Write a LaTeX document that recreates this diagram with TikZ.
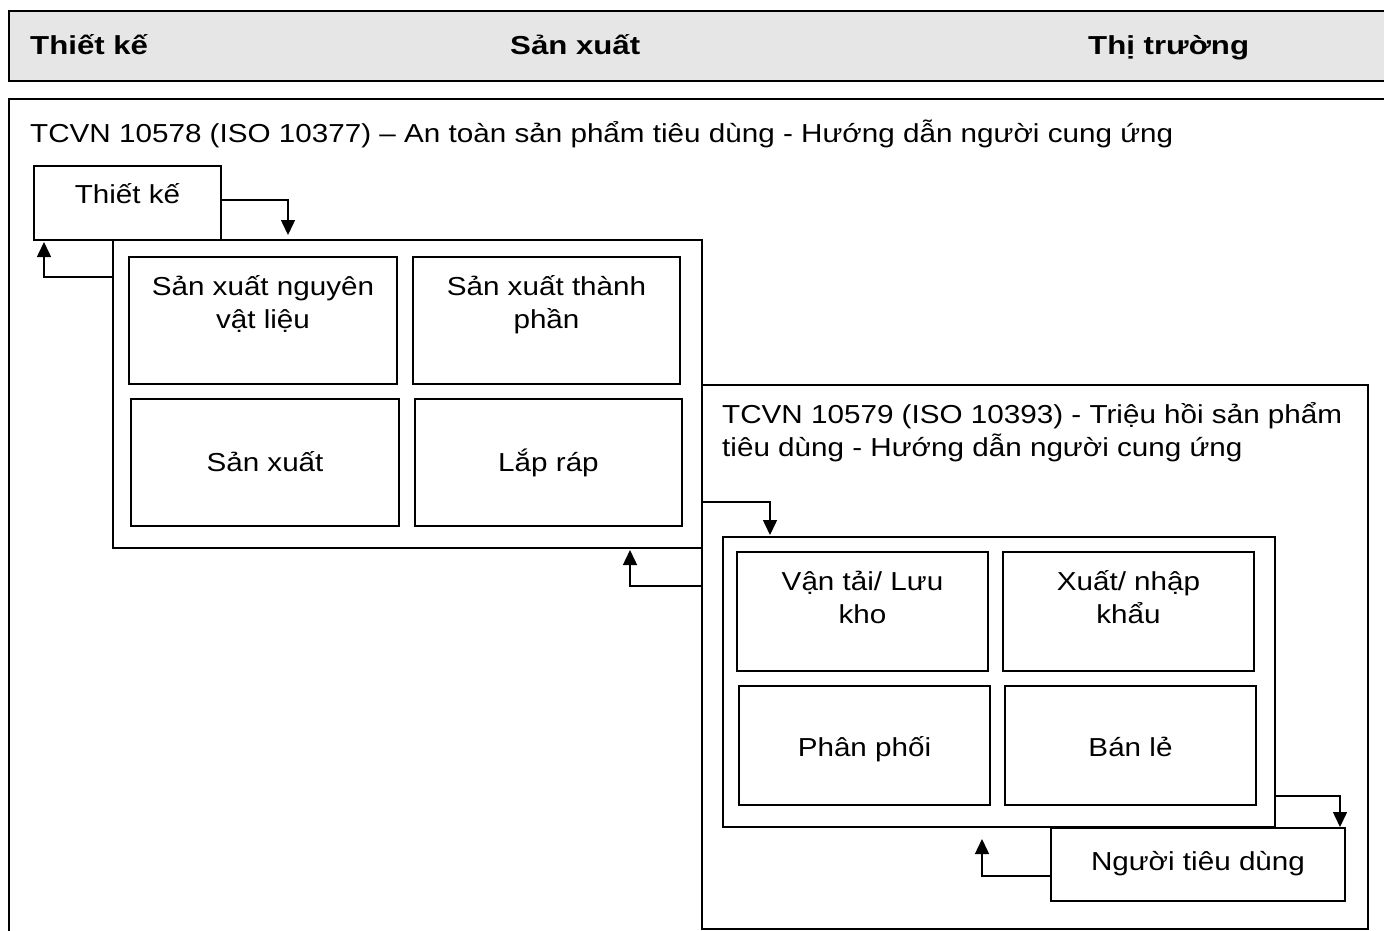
\documentclass[tikz,border=0pt]{standalone}
\usepackage{fontspec}
\setmainfont{Liberation Sans}[FakeStretch=1.14]
\newfontfamily\headfont{Liberation Sans}[FakeStretch=1.2]
\usetikzlibrary{arrows.meta}
\definecolor{hdrgray}{HTML}{E6E6E6}
\tikzset{
  box/.style={draw, line width=1.6pt, inner sep=0pt, outer sep=0pt, anchor=north west},
  txt/.style={anchor=base, align=center, inner sep=0pt, font=\fontsize{26}{33}\selectfont},
  ltxt/.style={anchor=base west, align=left, inner sep=0pt, font=\fontsize{26}{33}\selectfont},
  htxt/.style={anchor=base west, inner sep=0pt, font=\headfont\bfseries\fontsize{26}{33}\selectfont},
  arr/.style={line width=1.5pt, -{Triangle[width=14pt,length=15pt]}},
}
\begin{document}
\begin{tikzpicture}[x=1pt,y=-1pt]
\useasboundingbox (0,0) rectangle (1384,930);
\clip (0,0) rectangle (1384,930);
% header band
\node[box, fill=hdrgray, line width=2.4pt, minimum width=1400pt, minimum height=70pt] (hdr) at (9,11) {};
\node[htxt] (h1) at (30,54) {Thiết kế};
\node[htxt] (h2) at (510,54) {Sản xuất};
\node[htxt] (h3) at (1088,54) {Thị trường};
% outer frame
\node[box, line width=2pt, minimum width=1400pt, minimum height=860pt] (outer) at (9,99) {};
\node[ltxt] (t1) at (30,142) {TCVN 10578 (ISO 10377) – An toàn sản phẩm tiêu dùng - Hướng dẫn người cung ứng};
% design box
\node[box, minimum width=187pt, minimum height=74pt] (tk) at (34,166) {};
\node[txt] (tkt) at ([yshift=-37pt]tk.north) {Thiết kế};
% production group
\node[box, minimum width=589pt, minimum height=308pt] (prod) at (113,240) {};
\node[box, minimum width=268pt, minimum height=127pt] (p1) at (129,257) {};
\node[box, minimum width=267pt, minimum height=127pt] (p2) at (413,257) {};
\node[box, minimum width=268pt, minimum height=127pt] (p3) at (131,399) {};
\node[box, minimum width=267pt, minimum height=127pt] (p4) at (415,399) {};
\node[txt] at ([yshift=-71pt]p1.north) {Sản xuất nguyên\\vật liệu};
\node[txt] at ([yshift=-71pt]p2.north) {Sản xuất thành\\phần};
\node[txt] at ([yshift=-9pt]p3.center) {Sản xuất};
\node[txt] at ([yshift=-9pt]p4.center) {Lắp ráp};
% recall frame
\node[box, minimum width=666pt, minimum height=544pt] (rec) at (702,385) {};
\node[ltxt] (t2) at (722,456) {TCVN 10579 (ISO 10393) - Triệu hồi sản phẩm\\tiêu dùng - Hướng dẫn người cung ứng};
% distribution group
\node[box, minimum width=552pt, minimum height=290pt] (dist) at (723,537) {};
\node[box, minimum width=251pt, minimum height=119pt] (d1) at (737,552) {};
\node[box, minimum width=251pt, minimum height=119pt] (d2) at (1003,552) {};
\node[box, minimum width=251pt, minimum height=119pt] (d3) at (739,686) {};
\node[box, minimum width=251pt, minimum height=119pt] (d4) at (1005,686) {};
\node[txt] at ([yshift=-71pt]d1.north) {Vận tải/ Lưu\\kho};
\node[txt] at ([yshift=-71pt]d2.north) {Xuất/ nhập\\khẩu};
\node[txt] at ([yshift=-11pt]d3.center) {Phân phối};
\node[txt] at ([yshift=-11pt]d4.center) {Bán lẻ};
% consumer
\node[box, fill=white, minimum width=294pt, minimum height=73pt] (ntd) at (1051,828) {};
\node[txt] at ([yshift=-42pt]ntd.north) {Người tiêu dùng};
% connectors
\draw[arr] ([yshift=3pt]tk.east) -| ([xshift=175pt,yshift=5pt]prod.north west);
\draw[arr] ([yshift=-37pt]prod.north west) -| ([xshift=10pt,yshift=-2pt]tk.south west);
\draw[arr] ([yshift=46pt]prod.south east) -| ([xshift=47pt,yshift=2pt]dist.north west);
\draw[arr] ([yshift=-201pt]rec.north west) -| ([xshift=-72pt,yshift=-2pt]prod.south east);
\draw[arr] ([yshift=31pt]dist.south east) -| ([xshift=-5pt,yshift=1pt]ntd.north east);
\draw[arr] ([yshift=-11.5pt]ntd.west) -| ([xshift=259pt,yshift=-12pt]dist.south west);
\end{tikzpicture}
\end{document}
